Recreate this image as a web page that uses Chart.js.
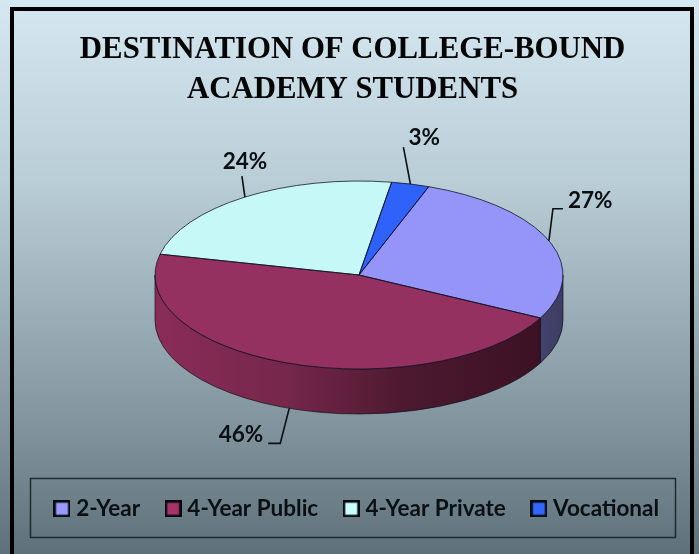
<!DOCTYPE html>
<html><head><meta charset="utf-8">
<style>html,body{margin:0;padding:0;background:#d5e8f2}canvas{display:block}</style>
<script src="https://cdn.jsdelivr.net/npm/chart.js@4"></script>
</head><body><canvas id="c" width="699" height="554"></canvas>
<script>
const titleLines = ['DESTINATION OF COLLEGE-BOUND', 'ACADEMY STUDENTS'];
const categories = ['2-Year', '4-Year Public', '4-Year Private', 'Vocational'];
const shares = [27, 46, 24, 3];
const topColors = ['#9494f9', '#953160', '#c6f8f7', '#2f62fb'];
const swatchColors = ['#9999ff', '#a33568', '#ccffff', '#3366ff'];

const labelFont = 'bold 22.5px Lato, "Open Sans", sans-serif';
const ELLIPSE = {cx: 359, cy: 275, rx: 204, ry: 94, depth: 45};
const LEGEND_SHIFT = 6.5;
const wallStops = [
  [[0, '#42426e'], [1, '#3d3d63']],
  [[0, '#8a2c59'], [0.35, '#752749'], [0.65, '#4c1930'], [1, '#3c1124']],
  [[0, '#a8d0d0'], [1, '#a8d0d0']],
  [[0, '#2040a0'], [1, '#2040a0']]
];
// leader-line shape relative to each slice's rim mid-point, and text placement
const leaders = [
  {bend: [4, -32], end: [14, -32], text: [19, -40], align: 'left', wall: false},
  {bend: [-9, 35], end: [-21, 35], text: [-26, 26], align: 'right', wall: true},
  {bend: [-3, -21], end: [-3, -21], text: [0, -35], align: 'center', wall: false},
  {bend: [-7, -37], end: [-7, -37], text: [-2, -46], align: 'left', wall: false}
];

const swatches = swatchColors.map(col => {
  const s = document.createElement('canvas');
  s.width = 17; s.height = 17;
  const x = s.getContext('2d');
  x.fillStyle = '#050a0c'; x.fillRect(0, 0, 17, 17);
  x.fillStyle = col; x.fillRect(2.5, 2.5, 12, 12);
  return s;
});

const pie3d = {
  id: 'pie3d',
  afterLayout(chart) {
    chart.legend.left += LEGEND_SHIFT;
    chart.legend.right += LEGEND_SHIFT;
  },
  beforeDraw(chart) {
    const {ctx, width, height} = chart;
    const g = ctx.createLinearGradient(0, 0, 0, height);
    g.addColorStop(0, '#d5e8f2');
    g.addColorStop(0.33, '#b9cdd7');
    g.addColorStop(0.8, '#7d909a');
    g.addColorStop(1, '#5e7079');
    ctx.fillStyle = g;
    ctx.fillRect(0, 0, width, height);
    ctx.strokeStyle = '#000';
    ctx.lineWidth = 4;
    ctx.beginPath();
    ctx.moveTo(12, height + 5);
    ctx.lineTo(12, 9);
    ctx.lineTo(692, 9);
    ctx.lineTo(692, height + 5);
    ctx.stroke();
    ctx.strokeStyle = '#20292c';
    ctx.lineWidth = 1.5;
    ctx.strokeRect(30.5, 478.5, 645, 59);
  },
  beforeDatasetsDraw(chart) {
    const {ctx} = chart;
    const {cx, cy, rx, ry, depth} = ELLIPSE;
    const arcs = chart.getDatasetMeta(0).data;
    const TAU = Math.PI * 2;
    arcs.forEach((arc, i) => {
      for (const k of [-1, 0, 1]) {
        const lo = Math.max(arc.startAngle, TAU * k);
        const hi = Math.min(arc.endAngle, TAU * k + Math.PI);
        if (hi <= lo) continue;
        const x0 = cx + rx * Math.cos(lo), x1 = cx + rx * Math.cos(hi);
        const xMin = (lo <= TAU * k + Math.PI && hi >= TAU * k + Math.PI) ? cx - rx : Math.min(x0, x1);
        const xMax = (lo <= TAU * k) ? cx + rx : Math.max(x0, x1);
        const g = ctx.createLinearGradient(xMin, 0, xMax, 0);
        wallStops[i].forEach(s => g.addColorStop(s[0], s[1]));
        ctx.beginPath();
        ctx.ellipse(cx, cy, rx, ry, 0, lo, hi);
        ctx.ellipse(cx, cy + depth, rx, ry, 0, hi, lo, true);
        ctx.closePath();
        ctx.fillStyle = g;
        ctx.fill();
        ctx.strokeStyle = 'rgba(15,15,25,0.85)';
        ctx.lineWidth = 0.8;
        ctx.stroke();
      }
    });
  },
  beforeDatasetDraw(chart) {
    const {ctx} = chart;
    const arc = chart.getDatasetMeta(0).data[0];
    const {cx, cy, rx, ry} = ELLIPSE;
    ctx.save();
    ctx.translate(cx, cy);
    ctx.scale(rx / arc.outerRadius, ry / arc.outerRadius);
    ctx.translate(-arc.x, -arc.y);
  },
  afterDatasetDraw(chart) {
    chart.ctx.restore();
  },
  afterDatasetsDraw(chart) {
    const {ctx} = chart;
    const {cx, cy, rx, ry, depth} = ELLIPSE;
    const arcs = chart.getDatasetMeta(0).data;
    arcs.forEach(arc => {
      ctx.beginPath();
      ctx.moveTo(cx, cy);
      ctx.ellipse(cx, cy, rx, ry, 0, arc.startAngle, arc.endAngle);
      ctx.closePath();
      ctx.strokeStyle = 'rgba(15,15,35,0.85)';
      ctx.lineWidth = 0.9;
      ctx.stroke();
    });
    arcs.forEach((arc, i) => {
      const mid = (arc.startAngle + arc.endAngle) / 2;
      const L = leaders[i];
      const ax = cx + rx * Math.cos(mid);
      const ay = cy + ry * Math.sin(mid) + (L.wall ? depth : 0);
      ctx.beginPath();
      ctx.moveTo(ax, ay);
      ctx.lineTo(ax + L.bend[0], ay + L.bend[1]);
      ctx.lineTo(ax + L.end[0], ay + L.end[1]);
      ctx.strokeStyle = '#0a0f12';
      ctx.lineWidth = 1.6;
      ctx.stroke();
      ctx.font = labelFont;
      ctx.fillStyle = '#0a0f12';
      ctx.textAlign = L.align;
      ctx.textBaseline = 'middle';
      ctx.fillText(shares[i] + '%', ax + L.text[0], ay + L.text[1]);
    });
  }
};

new Chart(document.getElementById('c'), {
  type: 'pie',
  data: {
    labels: categories,
    datasets: [{data: shares, backgroundColor: topColors, borderWidth: 0, hoverOffset: 0}]
  },
  options: {
    responsive: false,
    animation: false,
    rotation: 20,
    layout: {padding: {left: 20, right: 14, top: 8, bottom: 24}},
    plugins: {
      tooltip: {enabled: false},
      title: {
        display: true,
        text: titleLines,
        color: '#050505',
        font: {family: '"Liberation Serif", serif', weight: 'bold', size: 30.8, lineHeight: 1.31},
        padding: {top: 22, bottom: 4}
      },
      legend: {
        position: 'bottom',
        labels: {
          color: '#0a0f12',
          font: {family: 'Lato, "Open Sans", sans-serif', weight: 'bold', size: 22.5},
          usePointStyle: true,
          boxWidth: 6,
          boxHeight: 17,
          padding: 30,
          generateLabels: () => categories.map((text, i) => ({
            text, pointStyle: swatches[i], fontColor: '#0a0f12', datasetIndex: 0, index: i, hidden: false
          }))
        }
      }
    }
  },
  plugins: [pie3d]
});
</script></body></html>
